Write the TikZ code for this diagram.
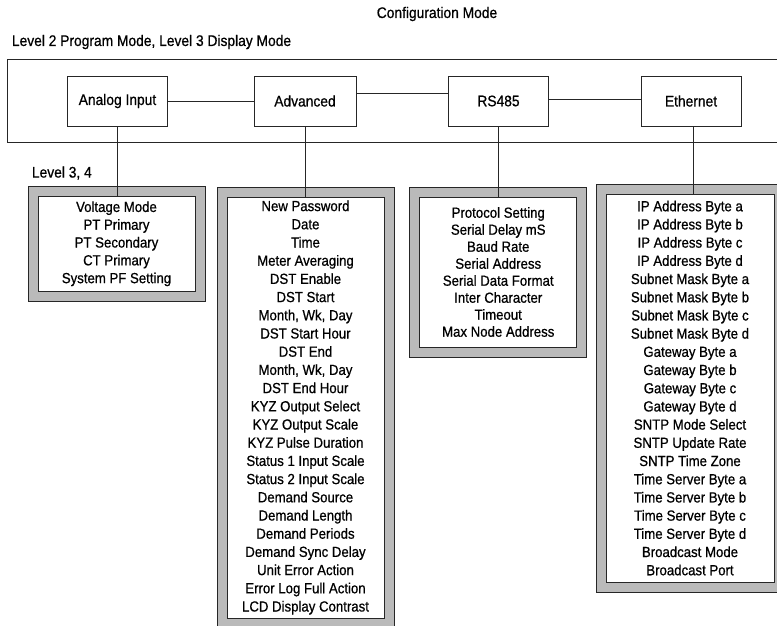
\documentclass[tikz,border=0pt]{standalone}
\usepackage{fontspec}
\setmainfont{Liberation Sans}[FakeStretch=0.9, FakeBold=0.7]
\usepackage{xcolor}
\usepackage{tikz}

\begin{document}
\begin{tikzpicture}[x=0.75pt, y=-0.75pt, line width=0.75pt,
    every node/.style={font=\fontsize{11.5}{13}\selectfont},
    modebox/.style={draw=black!85, fill=white, minimum width=75pt, minimum height=37.5pt, inner sep=0pt},
    listbox/.style={draw=black!85, double=black!27, double distance=6.75pt, fill=white,
        align=center, inner sep=0pt, font=\fontsize{11}{13.65}\selectfont}]
    \useasboundingbox (0,0) rectangle (777,625);
    \clip (0,0) rectangle (777,625);
    % Titles
    \node (cfg) at (437,14) {Configuration Mode};
    \node[anchor=west] (lvltwo) at (7,42) {Level 2 Program Mode, Level 3 Display Mode};
    \node[anchor=west] (lvlthree) at (27,173) {Level 3, 4};
    % Program mode frame
    \draw[draw=black!85] (780,59) -- (7,59) -- (7,142) -- (780,142);
    % Menus
    \node[modebox] (ai) at (117.5,101) {Analog Input};
    \node[modebox, minimum width=76.5pt] (adv) at (305,101) {Advanced};
    \node[modebox] (rs) at (498.5,101) {RS485};
    \node[modebox] (eth) at (691,101) {Ethernet};
    \draw[black!85] (ai.east) -- (adv.west);
    \draw[black!85] ([yshift=6pt]adv.east) -- ([yshift=6pt]rs.west);
    \draw[black!85] ([yshift=1.5pt]rs.east) -- ([yshift=1.5pt]eth.west);
    % Settings lists
    \node[listbox, minimum width=125.25pt, minimum height=79.1pt, font=\fontsize{11}{13.35}\selectfont] (aiList) at (116.5,243.75)
        {Voltage Mode\\PT Primary\\PT Secondary\\CT Primary\\System PF Setting};
    \node[listbox, minimum width=125.25pt, minimum height=323.25pt] (advList) at (305.5,407.5)
        {New Password\\Date\\Time\\Meter Averaging\\DST Enable\\DST Start\\Month, Wk, Day\\
         DST Start Hour\\DST End\\Month, Wk, Day\\DST End Hour\\KYZ Output Select\\
         KYZ Output Scale\\KYZ Pulse Duration\\Status 1 Input Scale\\Status 2 Input Scale\\
         Demand Source\\Demand Length\\Demand Periods\\Demand Sync Delay\\Unit Error Action\\
         Error Log Full Action\\LCD Display Contrast};
    \node[listbox, minimum width=124.9pt, minimum height=120pt, font=\fontsize{11}{12.75}\selectfont] (rsList) at (498.25,272)
        {Protocol Setting\\Serial Delay mS\\Baud Rate\\Serial Address\\Serial Data Format\\
         Inter Character\\Timeout\\Max Node Address};
    \node[listbox, minimum width=133.5pt, minimum height=298.5pt] (ethList) at (690,388)
        {IP Address Byte a\\IP Address Byte b\\IP Address Byte c\\IP Address Byte d\\
         Subnet Mask Byte a\\Subnet Mask Byte b\\Subnet Mask Byte c\\Subnet Mask Byte d\\
         Gateway Byte a\\Gateway Byte b\\Gateway Byte c\\Gateway Byte d\\
         SNTP Mode Select\\SNTP Update Rate\\SNTP Time Zone\\
         Time Server Byte a\\Time Server Byte b\\Time Server Byte c\\Time Server Byte d\\
         Broadcast Mode\\Broadcast Port};
    % Drop lines
    \draw[black!85] (ai.south) -- ([yshift=-3.75pt]ai.south |- aiList.north);
    \draw[black!85] (adv.south) -- ([yshift=-3.75pt]adv.south |- advList.north);
    \draw[black!85] (rs.south) -- ([yshift=-3.75pt]rs.south |- rsList.north);
    \draw[black!85] ([xshift=2pt]eth.south) -- ([xshift=2pt, yshift=-3.75pt]eth.south |- ethList.north);
\end{tikzpicture}
\end{document}
